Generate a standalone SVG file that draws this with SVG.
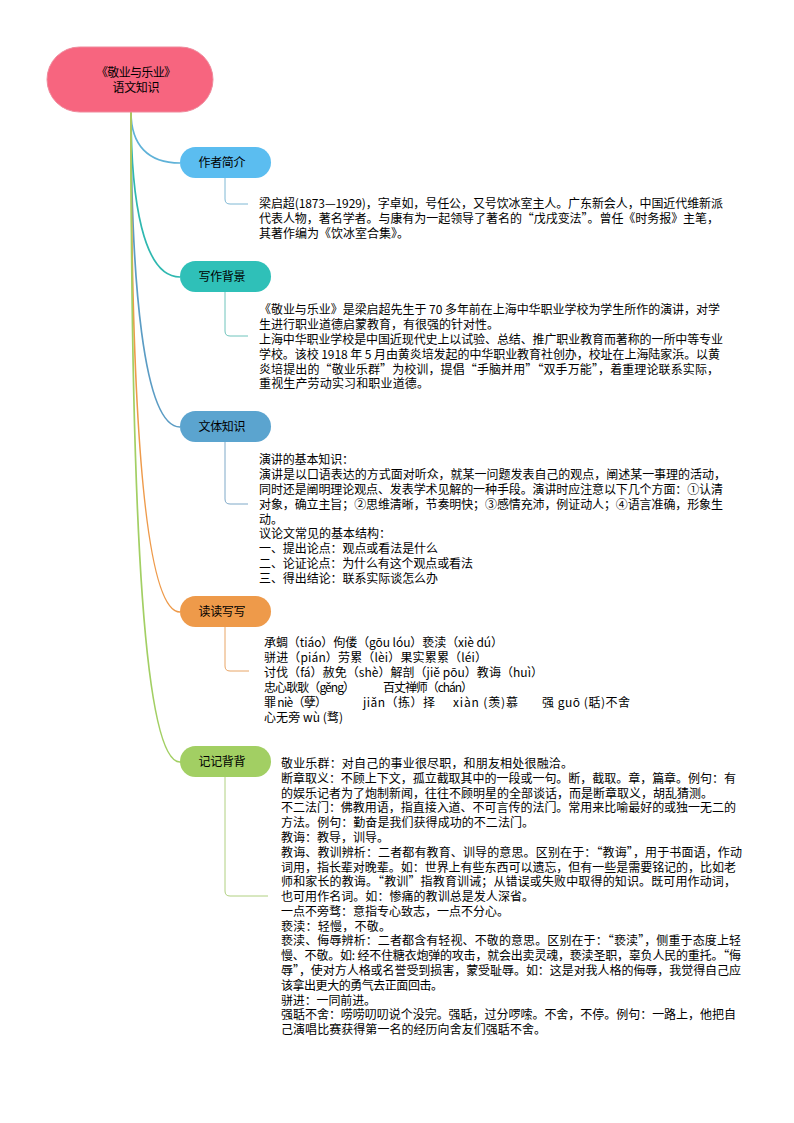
<svg xmlns="http://www.w3.org/2000/svg" width="794" height="1123" viewBox="0 0 794 1123">
<style>
text{font-family:"Noto Sans CJK SC","Liberation Sans",sans-serif;font-size:12px;fill:#000}
.c{text-anchor:middle}
.w{fill:none;stroke-width:1.7}
.l{fill:none;stroke-width:1}
</style>
<rect width="794" height="1123" fill="#fff"/>
<g id="connectors">
<path class="w" stroke="#5fb2d8" d="M131 112C131 145 148 163 180 163"/>
<path class="w" stroke="#2fb8b0" d="M131 112C131 200 143 277 180 277"/>
<path class="w" stroke="#5b9cc4" d="M131 112C131 280 143 427 180 427"/>
<path class="w" stroke="#ee9a4a" d="M131 112C131 420 145 612 180 612"/>
<path class="w" stroke="#a2cf63" d="M131 112C131 540 145 762 180 762"/>
<path class="l" stroke="#7fb8d4" d="M225 178V199Q225 204 230 204H248"/>
<path class="l" stroke="#6fc4bc" d="M225 292V331Q225 336 230 336H248"/>
<path class="l" stroke="#7fa9c8" d="M225 442V499Q225 504 230 504H248"/>
<path class="l" stroke="#e8a566" d="M225 627V666Q225 671 230 671H249"/>
<path class="l" stroke="#b0d080" d="M225 777V891Q225 896 230 896H268"/>
</g>
<g id="root">
<rect x="47" y="47" width="166" height="65" rx="32.5" fill="#f7657f" stroke="#ef8a9c"/>
<text class="c" x="136" y="77" textLength="80">《敬业与乐业》</text>
<text class="c" x="136" y="92" textLength="47">语文知识</text>
</g>
<g id="topic-author">
<rect x="180" y="147" width="91" height="31" rx="15.5" fill="#5bbdf0"/>
<text class="c" x="222" y="167" textLength="47">作者简介</text>
</g>
<g id="text-author">
<text x="259" y="208" textLength="464">梁启超(1873—1929)，字卓如，号任公，又号饮冰室主人。广东新会人，中国近代维新派</text>
<text x="259" y="223" textLength="460">代表人物，著名学者。与康有为一起领导了著名的“戊戌变法”。曾任《时务报》主笔，</text>
<text x="259" y="238" textLength="150">其著作编为《饮冰室合集》。</text>
</g>
<g id="topic-background">
<rect x="180" y="261" width="91" height="31" rx="15.5" fill="#2fc0b8"/>
<text class="c" x="222" y="281" textLength="47">写作背景</text>
</g>
<g id="text-background">
<text x="259" y="314" textLength="461">《敬业与乐业》是梁启超先生于 70 多年前在上海中华职业学校为学生所作的演讲，对学</text>
<text x="259" y="329" textLength="240">生进行职业道德启蒙教育，有很强的针对性。</text>
<text x="259" y="344" textLength="464">上海中华职业学校是中国近现代史上以试验、总结、推广职业教育而著称的一所中等专业</text>
<text x="259" y="359" textLength="461">学校。该校 1918 年 5 月由黄炎培发起的中华职业教育社创办，校址在上海陆家浜。以黄</text>
<text x="259" y="373.5" textLength="460">炎培提出的“敬业乐群”为校训，提倡“手脑并用”“双手万能”，着重理论联系实际，</text>
<text x="259" y="388" textLength="170">重视生产劳动实习和职业道德。</text>
</g>
<g id="topic-style">
<rect x="180" y="411" width="91" height="31" rx="15.5" fill="#5ba4cf"/>
<text class="c" x="222" y="431" textLength="47">文体知识</text>
</g>
<g id="text-style">
<text x="259" y="464" textLength="95">演讲的基本知识：</text>
<text x="259" y="479" textLength="467">演讲是以口语表达的方式面对听众，就某一问题发表自己的观点，阐述某一事理的活动，</text>
<text x="259" y="494" textLength="464">同时还是阐明理论观点、发表学术见解的一种手段。演讲时应注意以下几个方面：①认清</text>
<text x="259" y="508.5" textLength="464">对象，确立主旨；②思维清晰，节奏明快；③感情充沛，例证动人；④语言准确，形象生</text>
<text x="259" y="523.5" textLength="24">动。</text>
<text x="259" y="538" textLength="132">议论文常见的基本结构：</text>
<text x="259" y="553" textLength="179">一、提出论点：观点或看法是什么</text>
<text x="259" y="568" textLength="214">二、论证论点：为什么有这个观点或看法</text>
<text x="259" y="583" textLength="179">三、得出结论：联系实际谈怎么办</text>
</g>
<g id="topic-read">
<rect x="180" y="596" width="91" height="31" rx="15.5" fill="#ee9a4a"/>
<text class="c" x="222" y="616" textLength="47">读读写写</text>
</g>
<g id="text-read">
<text x="264" y="647" textLength="239">承蜩（tiáo）佝偻（gōu lóu）亵渎（xiè dú）</text>
<text x="264" y="662" textLength="223">骈进（pián）劳累（lèi）果实累累（léi）</text>
<text x="264" y="677" textLength="279">讨伐（fá）赦免（shè）解剖（jiě pōu）教诲（huì）</text>
<text x="264" y="692" textLength="91">忠心耿耿（gěng）</text>
<text x="383" y="692" textLength="90">百丈禅师（chán）</text>
<text x="264" y="707" textLength="63">罪 niè（孽）</text>
<text x="363" y="707" textLength="72">jiǎn（拣）择</text>
<text x="453" y="707" textLength="65">xiàn (羡)慕</text>
<text x="542" y="707" textLength="88">强 guō (聒)不舍</text>
<text x="264" y="722" textLength="79">心无旁 wù (骛)</text>
</g>
<g id="topic-memorize">
<rect x="180" y="746" width="91" height="31" rx="15.5" fill="#a2cf63"/>
<text class="c" x="222" y="766" textLength="47">记记背背</text>
</g>
<g id="text-memorize">
<text x="281" y="768" textLength="292">敬业乐群：对自己的事业很尽职，和朋友相处很融洽。</text>
<text x="281" y="782.8" textLength="455">断章取义：不顾上下文，孤立截取其中的一段或一句。断，截取。章，篇章。例句：有</text>
<text x="281" y="797.6" textLength="432">的娱乐记者为了炮制新闻，往往不顾明星的全部谈话，而是断章取义，胡乱猜测。</text>
<text x="281" y="812.3" textLength="455">不二法门：佛教用语，指直接入道、不可言传的法门。常用来比喻最好的或独一无二的</text>
<text x="281" y="827.1" textLength="253">方法。例句：勤奋是我们获得成功的不二法门。</text>
<text x="281" y="841.9" textLength="108">教诲：教导，训导。</text>
<text x="281" y="856.7" textLength="461">教诲、教训辨析：二者都有教育、训导的意思。区别在于：“教诲”，用于书面语，作动</text>
<text x="281" y="871.5" textLength="455">词用，指长辈对晚辈。如：世界上有些东西可以遗忘，但有一些是需要铭记的，比如老</text>
<text x="281" y="886.2" textLength="455">师和家长的教诲。“教训”指教育训诫；从错误或失败中取得的知识。既可用作动词，</text>
<text x="281" y="901" textLength="253">也可用作名词。如：惨痛的教训总是发人深省。</text>
<text x="281" y="915.8" textLength="228">一点不旁骛：意指专心致志，一点不分心。</text>
<text x="281" y="930.6" textLength="110">亵渎：轻慢，不敬。</text>
<text x="281" y="945.4" textLength="460">亵渎、侮辱辨析：二者都含有轻视、不敬的意思。区别在于：“亵渎”，侧重于态度上轻</text>
<text x="281" y="960.1" textLength="460">慢、不敬。如: 经不住糖衣炮弹的攻击，就会出卖灵魂，亵渎圣职，辜负人民的重托。“侮</text>
<text x="281" y="974.9" textLength="460">辱”，使对方人格或名誉受到损害，蒙受耻辱。如：这是对我人格的侮辱，我觉得自己应</text>
<text x="281" y="989.7" textLength="162">该拿出更大的勇气去正面回击。</text>
<text x="281" y="1004.5" textLength="95">骈进：一同前进。</text>
<text x="281" y="1019.2" textLength="455">强聒不舍：唠唠叨叨说个没完。强聒，过分啰嗦。不舍，不停。例句：一路上，他把自</text>
<text x="281" y="1034" textLength="265">己演唱比赛获得第一名的经历向舍友们强聒不舍。</text>
</g>
</svg>
